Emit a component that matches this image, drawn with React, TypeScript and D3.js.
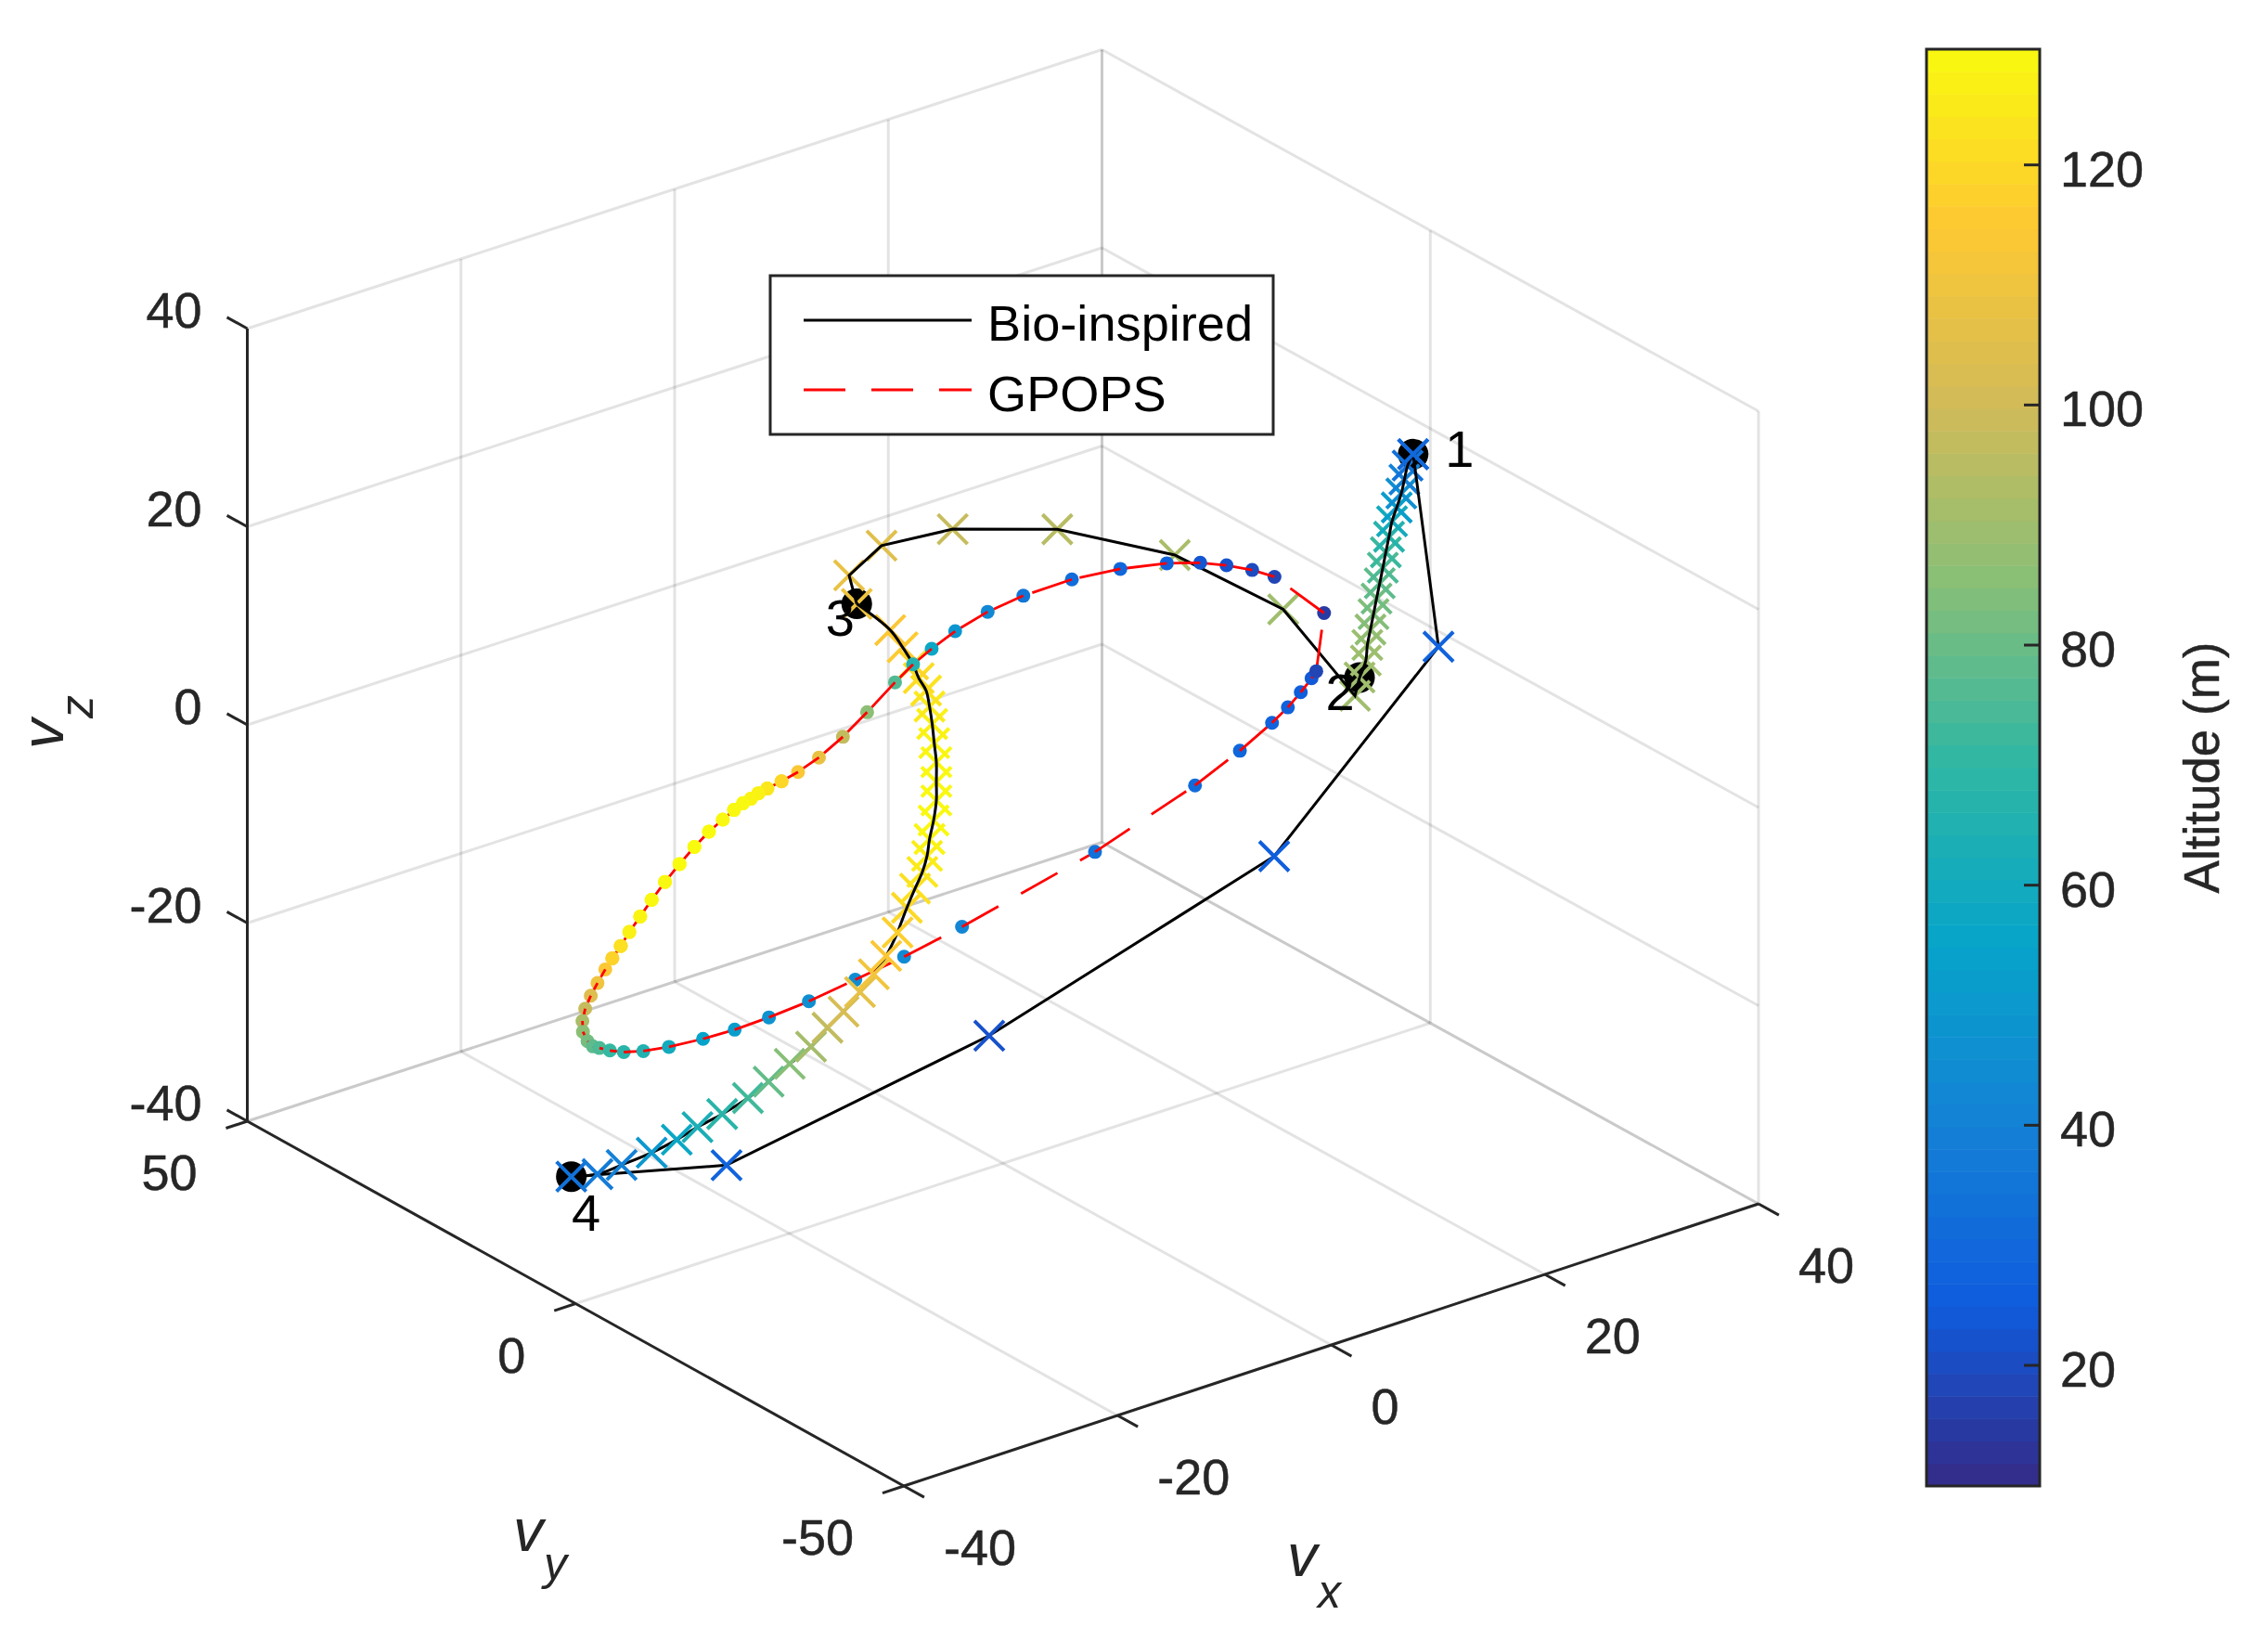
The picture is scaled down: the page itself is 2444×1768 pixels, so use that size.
import * as d3 from "d3";

// Only one view of the 3D plot exists, so depth can't be recovered from it:
// the tracks are read as (vx, vz) where the line of sight crosses the vy = 0 plane.

const xTicks = [-40, -20, 0, 20, 40];
const yTicks = [-50, 0, 50];
const zTicks = [-40, -20, 0, 20, 40];
const altTicks = [20, 40, 60, 80, 100, 120];
const parula = ["#352a87", "#0f5cdd", "#1481d6", "#06a4ca", "#2eb7a4", "#87bf77", "#d1bb59", "#fec832", "#f9fb0e"];
const parulaAlt = [10, 25, 40, 55, 70, 85, 100, 115, 130];

const bioVx = [38.4, 40.77, 25.39, -1.28, -25.87, -40.4, -37.95, -35.69, -32.88, -30.53, -28.59, -26.28, -23.87, -21.93, -19.96, -17.96, -16.42, -14.92, -13.38, -12.08, -10.93, -9.86, -8.99, -8.23, -7.54, -7.1, -6.87, -6.49, -6.23, -6.23, -6.23, -6.43, -6.62, -6.87, -7.19, -7.88, -8.41, -9.39, -10.55, -13.68, -14.4, -11.36, -4.7, 5.09, 16.09, 26.23, 32.95, 33.38, 33.97, 34.11, 34.4, 34.69, 34.97, 35.27, 35.56, 35.84, 36.14, 36.42, 36.86, 37.29, 37.58, 37.88, 38.4];
const bioVz = [17.98, -2.29, -17.99, -26.66, -31.03, -27.04, -27.66, -27.53, -27.29, -26.81, -26.22, -25.72, -24.96, -24, -22.89, -21.87, -20.5, -19.4, -17.98, -16.64, -15.2, -13.21, -11.02, -9.36, -7.92, -6.46, -4.84, -3.1, -1.17, 0.7, 2.69, 4.68, 6.69, 8.53, 10.26, 11.76, 13.34, 15.41, 17.55, 21.31, 24.44, 26.36, 25.67, 22.19, 15.7, 6.63, -4.47, -2.78, -1.27, 0.24, 1.7, 3.16, 4.62, 6.07, 7.53, 8.99, 10.45, 11.91, 13.15, 14.41, 15.71, 17.01, 17.98];
const bioAlt = [30, 28, 26, 22, 28, 34, 37, 40, 50, 57, 63, 68, 73, 79, 85, 91, 97, 102, 107, 111, 114, 117, 120, 122, 124, 126, 128, 129, 129, 129, 129, 128, 127, 125, 123, 121, 119, 116, 114, 110, 108, 105, 98, 95, 92, 90, 90, 90, 90, 89, 87, 84, 81, 78, 75, 72, 67, 60, 52, 46, 40, 34, 30];

const gpopsVx = [29.33, 30.06, 25.42, 23.33, 20.93, 18.47, 15.34, 10.99, 6.45, 1.91, -1.43, -4.47, -6.67, -8.41, -10.1, -12.71, -14.98, -17.22, -19.18, -20.72, -22.05, -22.89, -23.58, -24.33, -25.17, -26.22, -27.52, -28.88, -30.27, -31.63, -32.88, -33.95, -34.97, -35.77, -36.56, -37.22, -37.95, -38.58, -39.1, -39.36, -39.31, -38.88, -38.38, -37.77, -36.79, -35.49, -33.66, -31.26, -28.07, -25.11, -21.9, -18.16, -13.82, -9.25, -3.83, 8.62, 17.98, 22.18, 25.19, 26.67, 27.88, 28.89];
const gpopsVz = [-0.71, 4.9, 10.2, 11.63, 12.95, 14.08, 15.13, 16.11, 16.65, 16.61, 16.17, 15.29, 14.29, 13.34, 12.12, 10.03, 8.35, 7.05, 6.29, 5.89, 5.63, 5.45, 5.16, 4.96, 4.58, 3.97, 3.22, 2.15, 0.92, -0.4, -1.77, -3.07, -4.27, -5.4, -6.36, -7.25, -8.37, -9.42, -10.55, -11.7, -12.81, -13.91, -14.61, -14.99, -15.59, -16.21, -16.76, -17.18, -17.5, -17.62, -17.52, -17.22, -16.58, -15.87, -14.77, -11.62, -8.22, -6.21, -4.45, -3.42, -2.32, -1.27];
const gpopsAlt = [18, 15, 18, 20, 22, 23, 27, 29, 32, 35, 43, 49, 57, 65, 76, 86, 97, 108, 114, 119, 124, 127, 128, 129, 129, 129, 130, 130, 130, 129, 129, 128, 127, 122, 118, 114, 110, 104, 98, 92, 86, 82, 78, 75, 71, 68, 65, 60, 55, 52, 48, 46, 45, 44, 42, 34, 31, 29, 28, 27, 26, 24];

const waypointLabels = ["1", "2", "3", "4"];
const waypointIndex = [0, 47, 39, 5];
const waypointLabelDx = [50, -21, -18, 16];
const waypointLabelDy = [14, 35, 34, 58];
const nearEnd = 21; // bio points up to here sit in front of the GPOPS curve

const font = "'Liberation Sans', Arial, sans-serif";
const ink = "#262626";
const W = 2444;
const H = 1768;

// box: front bottom corner plus one edge vector per axis. The figure was
// resized a bit unevenly, the back corner sits 3.5px lower than a parallelogram would
const corner = [974, 1601];
const xEdge = [921, -304];
const yEdge = [-707.5, -393];
const zEdge = [0, -854];
const backSag = 3.5;
const tx = d3.scaleLinear().domain([-40, 40]).range([0, 1]);
const ty = d3.scaleLinear().domain([-50, 50]).range([0, 1]);
const tz = d3.scaleLinear().domain([-40, 40]).range([0, 1]);

const project = (x: number, y: number, z: number): [number, number] => [
  corner[0] + tx(x) * xEdge[0] + ty(y) * yEdge[0] + tz(z) * zEdge[0],
  corner[1] + tx(x) * xEdge[1] + ty(y) * yEdge[1] + tz(z) * zEdge[1] + tx(x) * ty(y) * backSag,
];

const altColor = d3.scaleLinear<string>().domain(parulaAlt).range(parula).interpolate(d3.interpolateRgb);
const barY = d3.scaleLinear().domain([9.95, 129.64]).range([1601, 53]);

const path = d3.line();
const smooth = d3.line().curve(d3.curveCatmullRom.alpha(0.5));
const seg = (a: [number, number], b: [number, number]) => path([a, b]) as string;

const bioPts = bioVx.map((v, i) => project(v, 0, bioVz[i]));
const gpopsPts = gpopsVx.map((v, i) => project(v, 0, gpopsVz[i]));
const gpopsPairs = d3.pairs([...gpopsPts, gpopsPts[0]]);

const gridLines: [number, number][][] = [
  // floor
  ...xTicks.map((x) => [project(x, -50, -40), project(x, 50, -40)]),
  ...yTicks.map((y) => [project(-40, y, -40), project(40, y, -40)]),
  // back wall vy = 50
  ...xTicks.map((x) => [project(x, 50, -40), project(x, 50, 40)]),
  ...zTicks.map((z) => [project(-40, 50, z), project(40, 50, z)]),
  // back wall vx = 40
  ...yTicks.map((y) => [project(40, y, -40), project(40, y, 40)]),
  ...zTicks.map((z) => [project(40, -50, z), project(40, 50, z)]),
];

const Cross = ({ p, alt }: { p: [number, number]; alt: number }) => {
  const r = 16;
  const d = `M${p[0] - r},${p[1] - r}L${p[0] + r},${p[1] + r}M${p[0] - r},${p[1] + r}L${p[0] + r},${p[1] - r}`;
  return <path d={d} stroke={altColor(alt)} strokeWidth={4} fill="none" />;
};

const Tick = ({ x, y, size = 54, anchor = "middle", children }: any) => (
  <text x={x} y={y + size * 0.358} fontSize={size} textAnchor={anchor} fill={ink} stroke={ink} strokeWidth={0.5}>
    {children}
  </text>
);

export default function App() {
  return (
    <svg width={W} height={H} viewBox={`0 0 ${W} ${H}`} fontFamily={font} style={{ position: "fixed", left: 0, top: 0, background: "#fff" }}>
      {/* grid */}
      <g stroke={ink} strokeOpacity={0.13} strokeWidth={3}>
        {gridLines.map((l, i) => (
          <path key={i} d={path(l) as string} fill="none" />
        ))}
      </g>

      {/* rulers and ticks */}
      <g stroke={ink} strokeWidth={3} fill="none">
        <path d={seg(project(-40, 50, -40), project(-40, 50, 40))} />
        <path d={seg(project(-40, 50, -40), project(-40, -50, -40))} />
        <path d={seg(project(-40, -50, -40), project(40, -50, -40))} />
        {zTicks.map((z) => (
          <path key={z} d={seg(project(-40, 50, z), project(-40, 53.1, z))} />
        ))}
        {yTicks.map((y) => (
          <path key={y} d={seg(project(-40, y, -40), project(-42, y, -40))} />
        ))}
        {xTicks.map((x) => (
          <path key={x} d={seg(project(x, -50, -40), project(x, -53.1, -40))} />
        ))}
      </g>

      {zTicks.map((z) => {
        const p = project(-40, 50, z);
        return (
          <Tick key={z} x={p[0] - 49} y={p[1] - 20} anchor="end">
            {z}
          </Tick>
        );
      })}
      {yTicks.map((y) => {
        const p = project(-40, y, -40);
        return (
          <Tick key={y} x={p[0] - 54} y={p[1] + 55} anchor="end">
            {y}
          </Tick>
        );
      })}
      {xTicks.map((x) => {
        const p = project(x, -50, -40);
        return (
          <Tick key={x} x={p[0] + 43} y={p[1] + 66} anchor="start">
            {x}
          </Tick>
        );
      })}

      {/* axis names */}
      <g fill={ink} fontStyle="italic">
        <text x={1387} y={1698} fontSize={65}>v</text>
        <text x={1420} y={1732} fontSize={50}>x</text>
        <text x={553} y={1671} fontSize={65}>v</text>
        <text x={586} y={1702} fontSize={50}>y</text>
        <text transform="translate(68,807) rotate(-90)" fontSize={65}>v</text>
        <text transform="translate(100,774) rotate(-90)" fontSize={50}>z</text>
      </g>

      {/* far part of the bio-inspired track */}
      {waypointIndex.map((idx) => (
        <circle key={idx} cx={bioPts[idx][0]} cy={bioPts[idx][1]} r={16.5} fill="#000" />
      ))}
      {bioPts.slice(nearEnd + 1).map((p, i) => (
        <Cross key={i} p={p} alt={bioAlt[i + nearEnd + 1]} />
      ))}
      <g fill="none" stroke="#000" strokeWidth={3}>
        <path d={smooth(bioPts.slice(nearEnd, 40)) as string} />
        <path d={path(bioPts.slice(39, 48)) as string} />
        <path d={smooth(bioPts.slice(47)) as string} />
      </g>

      {/* GPOPS: the dash restarts at every vertex; each dot covers the incoming segment, the outgoing one covers the dot */}
      {gpopsPairs.map(([a, b], i) => {
        const next = (i + 1) % gpopsPts.length;
        return (
          <g key={i}>
            <path d={seg(a, b)} stroke="#ff0000" strokeWidth={2.8} strokeDasharray="45 28" fill="none" />
            <circle cx={gpopsPts[next][0]} cy={gpopsPts[next][1]} r={7.5} fill={altColor(gpopsAlt[next])} />
          </g>
        );
      })}
      {/* the yellow stretch hides its red line almost completely */}
      {gpopsPts.map((p, i) =>
        gpopsAlt[i] >= 118 ? <circle key={i} cx={p[0]} cy={p[1]} r={7.5} fill={altColor(gpopsAlt[i])} /> : null
      )}

      {/* near part of the bio-inspired track */}
      <g fill="none" stroke="#000" strokeWidth={3}>
        <path d={path(bioPts.slice(0, 6)) as string} />
        <path d={smooth(bioPts.slice(5, nearEnd + 1)) as string} />
      </g>
      {bioPts.slice(0, nearEnd + 1).map((p, i) => (
        <Cross key={i} p={p} alt={bioAlt[i]} />
      ))}

      {waypointLabels.map((label, i) => {
        const p = bioPts[waypointIndex[i]];
        return (
          <text key={label} x={p[0] + waypointLabelDx[i]} y={p[1] + waypointLabelDy[i]} fontSize={56} textAnchor="middle" fill="#000">
            {label}
          </text>
        );
      })}

      {/* legend */}
      <rect x={830} y={297} width={542} height={171} fill="#fff" stroke={ink} strokeWidth={3} />
      <path d="M866,345H1047" stroke="#000" strokeWidth={3} />
      <path d="M866,420H1047" stroke="#ff0000" strokeWidth={3} strokeDasharray="45 28" />
      <text x={1064} y={367} fontSize={54.2} fill="#000">Bio-inspired</text>
      <text x={1064} y={443} fontSize={54.2} fill="#000">GPOPS</text>

      {/* colour bar */}
      {d3.range(64).map((i) => {
        const lo = 9.95 + (i * 119.69) / 64;
        const hi = 9.95 + ((i + 1) * 119.69) / 64;
        return (
          <rect key={i} x={2076} width={122} y={barY(hi)} height={barY(lo) - barY(hi) + 0.5} fill={altColor((lo + hi) / 2)} />
        );
      })}
      <rect x={2076} y={53} width={122} height={1548} fill="none" stroke={ink} strokeWidth={3} />
      {altTicks.map((a) => (
        <g key={a}>
          <path d={`M2181,${barY(a)}H2198`} stroke={ink} strokeWidth={3} />
          <Tick x={2220} y={barY(a) + 3.5} anchor="start">
            {a}
          </Tick>
        </g>
      ))}
      <text transform="translate(2391,827) rotate(-90)" fontSize={53} textAnchor="middle" fill={ink} stroke={ink} strokeWidth={0.5}>
        Altitude (m)
      </text>
    </svg>
  );
}
